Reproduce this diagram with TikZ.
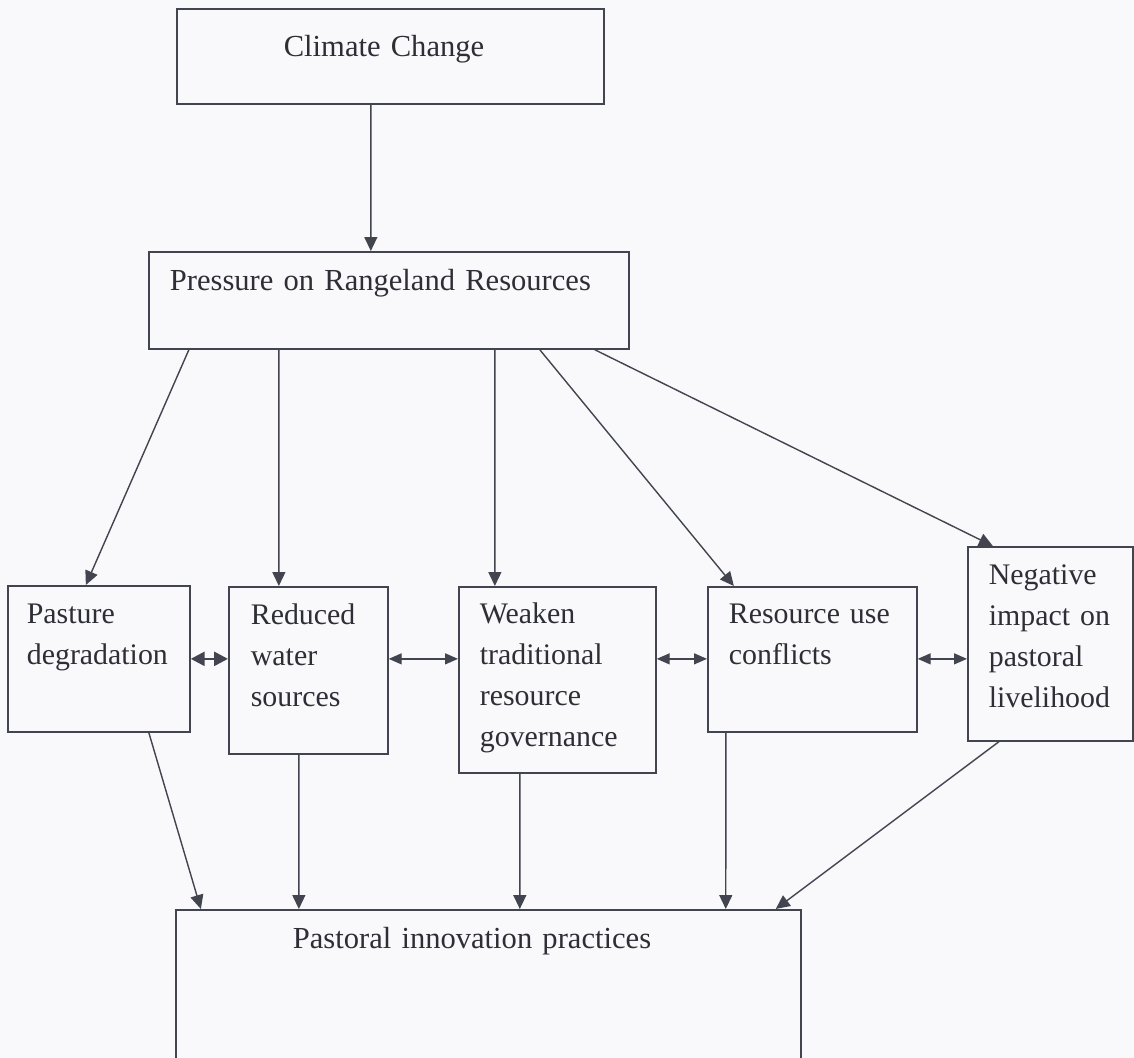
\documentclass[tikz,border=0pt]{standalone}
\usepackage{fontspec}
\setmainfont{Liberation Serif}
\usetikzlibrary{arrows.meta}

\definecolor{linegray}{RGB}{66,68,80}
\definecolor{textgray}{RGB}{46,46,54}
\definecolor{paper}{RGB}{249,249,251}

\tikzset{
  box/.style={draw=linegray, line width=1pt, anchor=north west, align=left,
    inner ysep=0pt, text=textgray, font=\fontsize{17.4}{23.3}\selectfont},
  midbox/.style={box, font=\fontsize{17}{23.3}\selectfont},
  arr/.style={draw=linegray, line width=0.8pt, -{Triangle[length=0.28cm,width=0.26cm]}},
  dbl/.style={draw=linegray, line width=0.8pt,
    {Triangle[length=0.26cm,width=0.22cm]}-{Triangle[length=0.26cm,width=0.22cm]}},
  heavydbl/.style={draw=linegray, line width=1.5pt,
    {Triangle[length=0.28cm,width=0.28cm]}-{Triangle[length=0.28cm,width=0.28cm]}}
}

\begin{document}
\begin{tikzpicture}[x=0.02cm,y=-0.02cm]
  \useasboundingbox (0,0) rectangle (1134,1058);
  \clip (0,0) rectangle (1134,1058);
  \fill[paper] (0,0) rectangle (1134,1058);

  % top row
  \node[box, text width=4.26cm, inner xsep=2.14cm, text height=0.96cm, text depth=0.94cm]
    (climate) at (176,8) {Climate Change};
  \node[box, text width=8.76cm, inner xsep=0.42cm, text height=0.78cm, text depth=1.16cm]
    (press) at (148,251) {Pressure on Rangeland Resources};

  % middle row
  \node[midbox, text width=2.88cm, inner xsep=0.38cm, text height=0.76cm, text depth=2.16cm]
    (pasture) at (7,585) {Pasture\\degradation};
  \node[midbox, text width=2.30cm, inner xsep=0.44cm, text height=0.76cm, text depth=2.58cm]
    (water) at (228,586) {Reduced\\water\\sources};
  \node[midbox, text width=3.10cm, inner xsep=0.42cm, text height=0.74cm, text depth=2.98cm]
    (govern) at (458,586) {Weaken\\traditional\\resource\\governance};
  \node[midbox, text width=3.34cm, inner xsep=0.42cm, text height=0.74cm, text depth=2.16cm]
    (conflict) at (707,586) {Resource~use\\conflicts};
  \node[midbox, text width=2.46cm, inner xsep=0.42cm, text height=0.76cm, text depth=3.12cm]
    (liveli) at (967,546) {Negative\\impact~on\\pastoral\\livelihood};

  % bottom
  \node[box, text width=7.82cm, inner xsep=2.34cm, text height=0.78cm, text depth=2.62cm]
    (innov) at (175,909) {Pastoral innovation practices};

  % arrows down
  \draw[arr] ([xshift=-0.39cm]climate.south) -- ([xshift=-0.36cm]press.north);
  \draw[arr] ([xshift=-4.00cm]press.south) -- ([xshift=-0.26cm]pasture.north);
  \draw[arr] ([xshift=-2.20cm]press.south) -- ([xshift=-0.59cm]water.north);
  \draw[arr] ([xshift=2.12cm]press.south) -- ([xshift=-1.25cm]govern.north);
  \draw[arr] ([xshift=3.02cm]press.south) -- ([xshift=-1.57cm]conflict.north);
  \draw[arr] ([xshift=4.12cm]press.south) -- ([xshift=-1.15cm]liveli.north);

  % links between the boxes
  \draw[heavydbl] (pasture.east) -- (pasture.east -| water.west);
  \draw[dbl] (water.east |- pasture.east) -- (govern.west |- pasture.east);
  \draw[dbl] (govern.east |- pasture.east) -- (conflict.west |- pasture.east);
  \draw[dbl] (conflict.east |- pasture.east) -- (liveli.west |- pasture.east);

  % into innovation practices
  \draw[arr] ([xshift=1.00cm]pasture.south) -- ([xshift=-5.75cm]innov.north);
  \draw[arr] ([xshift=-0.19cm]water.south) -- ([xshift=-3.79cm]innov.north);
  \draw[arr] ([xshift=-0.75cm]govern.south) -- ([xshift=0.63cm]innov.north);
  \draw[arr] ([xshift=-1.73cm]conflict.south) -- ([xshift=4.75cm]innov.north);
  \draw[arr] ([xshift=-1.03cm]liveli.south) -- ([xshift=5.75cm]innov.north);
\end{tikzpicture}
\end{document}
